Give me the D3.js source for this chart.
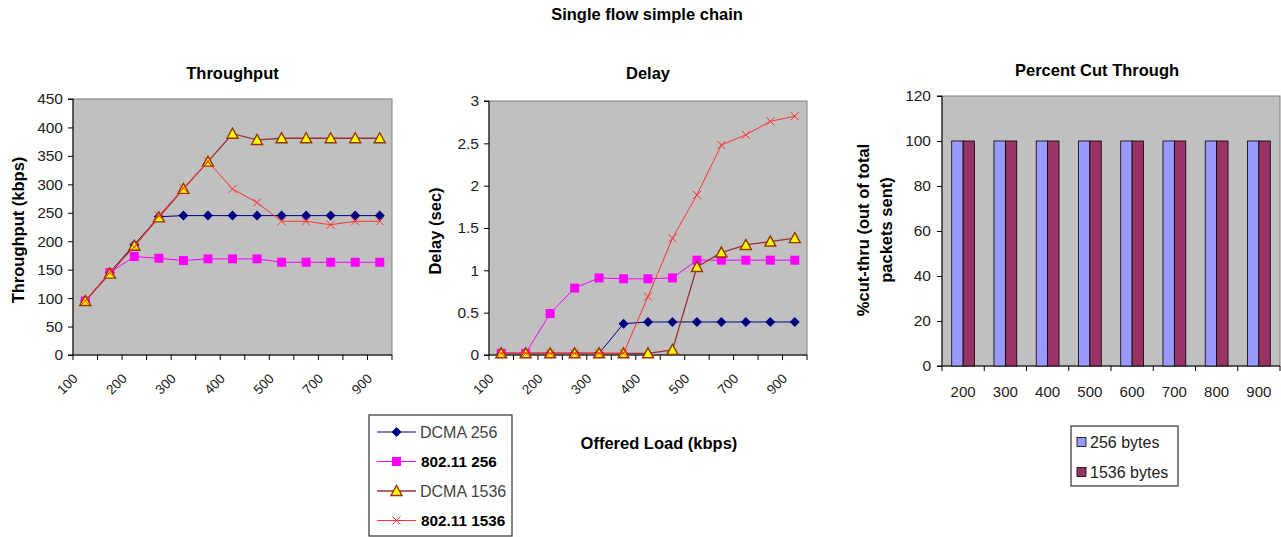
<!DOCTYPE html>
<html><head><meta charset="utf-8">
<script src="https://cdn.jsdelivr.net/npm/d3@7"></script>
<style>body{margin:0;background:#fff}svg{display:block;font-family:Arial,"Liberation Sans",sans-serif}</style>
</head><body>
<svg id="c" width="1281" height="537"></svg>
<script>
// ---- data ----
const loads = ["100","150","200","250","300","350","400","450","500","600","700","800","900"];
const loadLabels = ["100","200","300","400","500","700","900"];
const seriesNames = ["DCMA 256","802.11 256","DCMA 1536","802.11 1536"];
const thrDcma256  = [95,145,194,243,245,245,245,245,245,245,245,245,245];
const thr80211_256 = [95,145,173,170,166,169,169,169,163,163,163,163,163];
const thrDcma1536 = [95,143,192,242,292,340,389,378,381,381,381,381,381];
const thr80211_1536 = [95,145,190,245,293,340,292,268,235,235,229,235,235];
const delDcma256  = [0.02,0.02,0.02,0.02,0.02,0.37,0.39,0.39,0.39,0.39,0.39,0.39,0.39];
const del80211_256 = [0.02,0.02,0.49,0.79,0.91,0.90,0.90,0.91,1.12,1.12,1.12,1.12,1.12];
const delDcma1536 = [0.02,0.02,0.02,0.02,0.02,0.02,0.02,0.06,1.04,1.21,1.30,1.34,1.38];
const del80211_1536 = [0.02,0.02,0.02,0.02,0.02,0.02,0.69,1.38,1.89,2.48,2.60,2.76,2.82];
const cutLoads = ["200","300","400","500","600","700","800","900"];
const cut256 = [100,100,100,100,100,100,100,100];
const cut1536 = [100,100,100,100,100,100,100,100];
const barNames = ["256 bytes","1536 bytes"];

const svg = d3.select("#c");
const styles = [
  {color:"#000080", marker:"diamond", fill:"#000080", w:1},
  {color:"#FF00FF", marker:"square", fill:"#FF00FF", w:1},
  {color:"#993333", marker:"triangle", fill:"#FFFF00", w:1.3},
  {color:"#FF3333", marker:"x", fill:"none", w:1}
];
function drawMarker(g, type, x, y, st){
  if(type==="diamond") g.append("path").attr("d",`M${x},${y-5}L${x+5},${y}L${x},${y+5}L${x-5},${y}Z`).attr("fill",st.fill);
  else if(type==="square") g.append("rect").attr("x",x-4.5).attr("y",y-4.5).attr("width",9).attr("height",9).attr("fill",st.fill);
  else if(type==="triangle") g.append("path").attr("d",`M${x},${y-5.5}L${x+5.5},${y+4.5}L${x-5.5},${y+4.5}Z`).attr("fill",st.fill).attr("stroke","#993300").attr("stroke-width",1.4);
  else g.append("path").attr("d",`M${x-4},${y-4}L${x+4},${y+4}M${x+4},${y-4}L${x-4},${y+4}`).attr("stroke",st.color).attr("stroke-width",1);
}
const BOLD = 16.5, TICK = 15.5;

svg.append("text").attr("x",647).attr("y",20).attr("text-anchor","middle").attr("font-size",BOLD).attr("font-weight","bold").text("Single flow simple chain");

function lineChart(opt){
  const x = d3.scaleBand().domain(loads).range([opt.x0,opt.x1]).padding(0);
  const y = d3.scaleLinear().domain(opt.dom).range([355,opt.y0]);
  const g = svg.append("g");
  g.append("rect").attr("x",opt.x0).attr("y",opt.y0).attr("width",opt.x1-opt.x0).attr("height",355-opt.y0).attr("fill","#C0C0C0").attr("stroke","#808080");
  const ya = g.append("g").attr("transform",`translate(${opt.x0},0)`).call(d3.axisLeft(y).tickValues(opt.ticks).tickSize(5).tickPadding(5).tickFormat(d3.format("~g")));
  ya.selectAll("text").attr("font-size",TICK).attr("fill","#222").attr("font-family","Arial, Liberation Sans");
  ya.selectAll("line,path").attr("stroke","#000");
  ya.select(".domain").attr("d",`M-5,${opt.y0}H0V355H-5`);
  const xa = g.append("g").attr("transform","translate(0,355)");
  xa.append("line").attr("x1",opt.x0).attr("x2",opt.x1).attr("stroke","#000");
  xa.selectAll(".tk").data(loads.concat(["end"])).join("line")
    .attr("x1",d=>d==="end"?opt.x1:x(d)).attr("x2",d=>d==="end"?opt.x1:x(d)).attr("y1",0).attr("y2",5).attr("stroke","#000");
  xa.selectAll(".lb").data(loadLabels).join("text")
    .attr("transform",d=>`translate(${x(d)+x.bandwidth()/2-10},21) rotate(-45)`)
    .attr("text-anchor","end").attr("dy","0.35em").attr("font-size",13.5).attr("fill","#222").text(d=>d);
  g.append("text").attr("transform",`translate(${opt.labX},${opt.labY}) rotate(-90)`).attr("text-anchor","middle").attr("font-size",BOLD).attr("font-weight","bold").text(opt.ylab);
  g.append("text").attr("x",(opt.x0+opt.x1)/2).attr("y",79).attr("text-anchor","middle").attr("font-size",BOLD).attr("font-weight","bold").text(opt.title);
  const line = d3.line().x((d,i)=>x(loads[i])+x.bandwidth()/2).y(d=>y(d));
  opt.data.forEach((s,k)=>{
    const st = styles[k];
    g.append("path").attr("d",line(s)).attr("fill","none").attr("stroke",st.color).attr("stroke-width",st.w);
    const mg = g.append("g");
    s.forEach((v,i)=>drawMarker(mg, st.marker, x(loads[i])+x.bandwidth()/2, y(v), st));
  });
}
lineChart({x0:73,x1:392,y0:99,dom:[0,450],ticks:d3.range(0,451,50),ylab:"Throughput (kbps)",labX:24,labY:230,title:"Throughput",
  data:[thrDcma256,thr80211_256,thrDcma1536,thr80211_1536]});
lineChart({x0:489,x1:807,y0:101,dom:[0,3],ticks:d3.range(0,3.01,0.5),ylab:"Delay (sec)",labX:441,labY:231,title:"Delay",
  data:[delDcma256,del80211_256,delDcma1536,del80211_1536]});

svg.append("text").attr("x",659).attr("y",449).attr("text-anchor","middle").attr("font-size",BOLD).attr("font-weight","bold").text("Offered Load (kbps)");

const lg = svg.append("g");
lg.append("rect").attr("x",369).attr("y",415).attr("width",143).attr("height",121).attr("fill","#fff").attr("stroke","#333").attr("stroke-width",1.2);
seriesNames.forEach((n,k)=>{
  const yy = 432 + k*29.5, st = styles[k];
  lg.append("line").attr("x1",377).attr("x2",416).attr("y1",yy).attr("y2",yy).attr("stroke",st.color).attr("stroke-width",st.w);
  drawMarker(lg, st.marker, 396.5, yy, st);
  const bold = n.startsWith("802");
  lg.append("text").attr("x",bold?421:420).attr("y",yy).attr("dy","0.35em").attr("font-size",bold?15.3:16)
    .attr("font-weight",bold?"bold":"normal").attr("fill",bold?"#000":"#444").text(n);
});

(function(){
  const x0=942,x1=1280,y0=96,yb=366;
  const x = d3.scaleBand().domain(cutLoads).range([x0,x1]).paddingInner(0.46).paddingOuter(0.23);
  const xs = d3.scaleBand().domain(barNames).range([0,x.bandwidth()]);
  const y = d3.scaleLinear().domain([0,120]).range([yb,y0]);
  const g = svg.append("g");
  g.append("rect").attr("x",x0).attr("y",y0).attr("width",x1-x0).attr("height",yb-y0).attr("fill","#C0C0C0").attr("stroke","#808080");
  const ya = g.append("g").attr("transform",`translate(${x0},0)`).call(d3.axisLeft(y).ticks(6).tickSize(5).tickPadding(6));
  ya.selectAll("text").attr("font-size",TICK).attr("fill","#222").attr("font-family","Arial, Liberation Sans");
  ya.selectAll("line,path").attr("stroke","#000");
  ya.select(".domain").attr("d",`M-5,${y0}H0V${yb}H-5`);
  const step = x.step(), half = step*0.46/2;
  const xa = g.append("g").attr("transform",`translate(0,${yb})`);
  xa.append("line").attr("x1",x0).attr("x2",x1).attr("stroke","#000");
  xa.selectAll(".tk").data(cutLoads.concat(["end"])).join("line")
    .attr("x1",d=>d==="end"?x1:x(d)-half).attr("x2",d=>d==="end"?x1:x(d)-half).attr("y1",0).attr("y2",5).attr("stroke","#000");
  xa.selectAll(".lb").data(cutLoads).join("text").attr("x",d=>x(d)+x.bandwidth()/2).attr("y",31).attr("text-anchor","middle").attr("font-size",15).attr("fill","#222").text(d=>d);
  const cols = ["#9999FF","#993366"];
  [cut256,cut1536].forEach((s,k)=>{
    g.selectAll(null).data(s).join("rect").attr("x",(d,i)=>x(cutLoads[i])+xs(barNames[k])).attr("y",d=>y(d))
      .attr("width",xs.bandwidth()).attr("height",d=>yb-y(d)).attr("fill",cols[k]).attr("stroke","#000").attr("stroke-width",0.8);
  });
  g.append("text").attr("x",1097).attr("y",76).attr("text-anchor","middle").attr("font-size",BOLD).attr("font-weight","bold").text("Percent Cut Through");
  const yl = g.append("text").attr("transform","translate(869,230) rotate(-90)").attr("text-anchor","middle").attr("font-size",BOLD).attr("font-weight","bold");
  yl.append("tspan").attr("x",0).attr("dy",0).text("%cut-thru (out of total");
  yl.append("tspan").attr("x",0).attr("dy",23).text("packets sent)");
  const lg2 = g.append("g");
  lg2.append("rect").attr("x",1071).attr("y",426).attr("width",107).attr("height",60).attr("fill","#fff").attr("stroke","#333").attr("stroke-width",1.2);
  barNames.forEach((n,k)=>{
    const yy = 442 + k*30;
    lg2.append("rect").attr("x",1077).attr("y",yy-4.5).attr("width",9).attr("height",9).attr("fill",cols[k]).attr("stroke","#000").attr("stroke-width",0.8);
    lg2.append("text").attr("x",1090).attr("y",yy).attr("dy","0.35em").attr("font-size",16).attr("fill","#222").text(n);
  });
})();
</script>
</body></html>
